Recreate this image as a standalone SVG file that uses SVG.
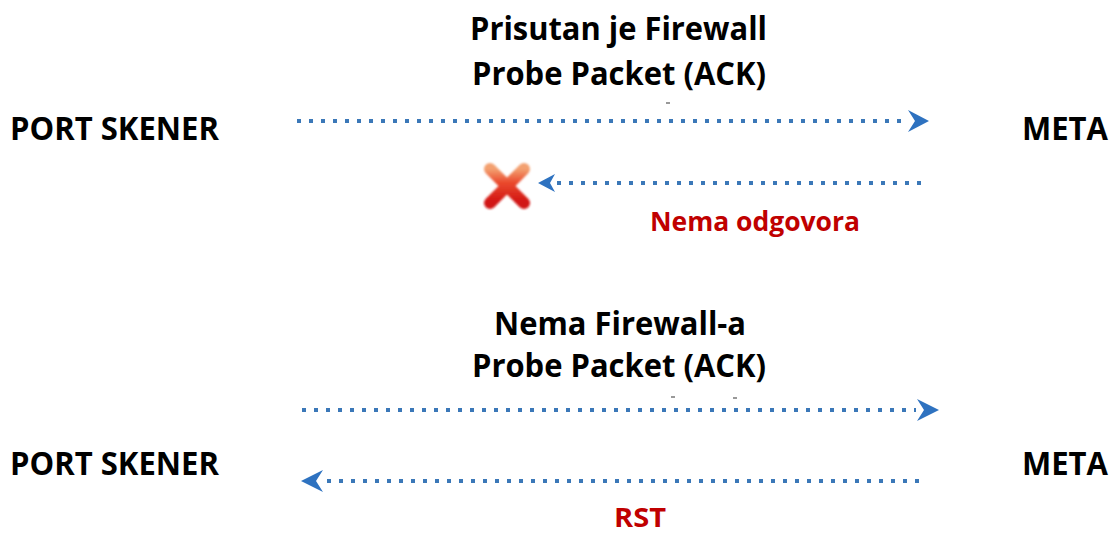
<svg xmlns="http://www.w3.org/2000/svg" width="1113" height="534" viewBox="0 0 1113 534">
<style>
.t{font-family:"Open Sans","Liberation Sans",sans-serif;font-weight:bold;font-size:33px;fill:#000}
.r{font-family:"Open Sans","Liberation Sans",sans-serif;font-weight:bold;font-size:26px;fill:#c00000}
.dots{stroke:#3a78b8;stroke-width:4;stroke-dasharray:4 8;fill:none}
.head{fill:#2e72c0}
.art{stroke:#999;stroke-width:2;fill:none}
</style>
<defs>
<filter id="soft" x="-5%" y="-50%" width="110%" height="200%"><feGaussianBlur stdDeviation="0.7"/></filter>
<filter id="soft2" x="-30%" y="-30%" width="160%" height="160%"><feGaussianBlur stdDeviation="1.2"/></filter>
<linearGradient id="xg" x1="0" y1="0" x2="0" y2="1">
<stop offset="0" stop-color="#f3a070"/>
<stop offset="0.4" stop-color="#ea4a2e"/>
<stop offset="1" stop-color="#d01212"/>
</linearGradient>
</defs>
<g id="top-scenario">
<g id="title1"><text class="t" x="470" y="40" textLength="297" lengthAdjust="spacingAndGlyphs">Prisutan je Firewall</text><text class="t" x="472" y="85" textLength="294" lengthAdjust="spacingAndGlyphs">Probe Packet (ACK)</text></g>
<g id="scanner1"><text class="t" x="10" y="140" textLength="209" lengthAdjust="spacingAndGlyphs">PORT SKENER</text></g>
<g id="meta1"><text class="t" x="1022" y="140" textLength="86" lengthAdjust="spacingAndGlyphs">META</text></g>
<g id="blocked"><path d="M490,169 L524,203 M524,169 L490,203" stroke="url(#xg)" stroke-width="12" stroke-linecap="round" filter="url(#soft2)"/></g>
<g id="label-noreply"><text class="r" x="650" y="231" textLength="210" lengthAdjust="spacingAndGlyphs">Nema odgovora</text></g>
</g>
<g id="bottom-scenario">
<g id="title2"><text class="t" x="494" y="335" textLength="252" lengthAdjust="spacingAndGlyphs">Nema Firewall-a</text><text class="t" x="472" y="377" textLength="294" lengthAdjust="spacingAndGlyphs">Probe Packet (ACK)</text></g>
<g id="scanner2"><text class="t" x="10" y="475" textLength="209" lengthAdjust="spacingAndGlyphs">PORT SKENER</text></g>
<g id="meta2"><text class="t" x="1022" y="475" textLength="86" lengthAdjust="spacingAndGlyphs">META</text></g>
<g id="label-rst"><text class="r" x="614" y="527" textLength="52" lengthAdjust="spacingAndGlyphs">RST</text></g>
</g>
<g id="connectors" filter="url(#soft)">
<line class="dots" x1="297" y1="121" x2="906" y2="121"/>
<path class="head" d="M929,121 L908,110 L915,121 L908,132 Z"/>
<line class="dots" x1="557" y1="183" x2="926" y2="183"/>
<path class="head" d="M538,183 L555,174 L550,183 L555,192 Z"/>
<line class="dots" x1="302" y1="410" x2="916" y2="410"/>
<path class="head" d="M939,410 L917,399 L924,410 L917,421 Z"/>
<line class="dots" x1="327" y1="481" x2="926" y2="481"/>
<path class="head" d="M301,481 L323,470 L316,481 L323,492 Z"/>
</g>
<g id="artifacts">
<line class="art" x1="666" y1="103" x2="670" y2="103"/>
<line class="art" x1="671" y1="397" x2="675" y2="397"/>
<line class="art" x1="733" y1="398" x2="737" y2="398"/>
</g>
</svg>
